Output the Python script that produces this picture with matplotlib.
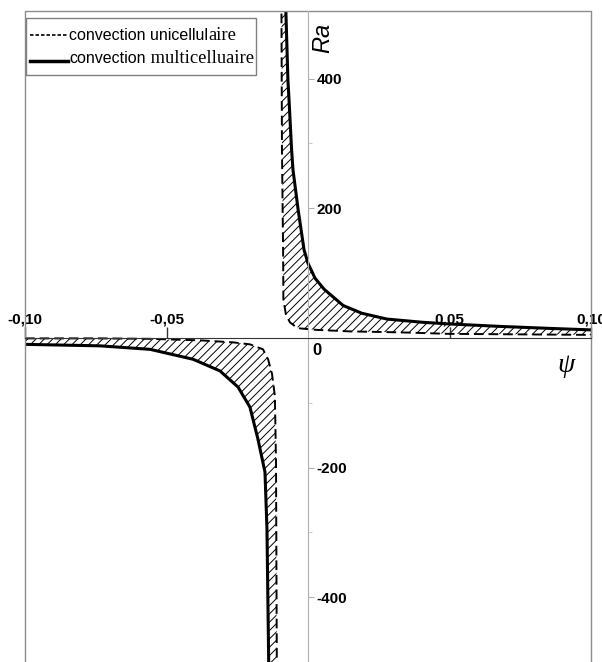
import numpy as np
import matplotlib.pyplot as plt
from matplotlib.patches import Rectangle
from matplotlib.lines import Line2D

plt.rcParams['hatch.linewidth'] = 0.7

# values (psi, Ra)
psi_multi_pos = [-0.0080, -0.0071, -0.0067, -0.0058, -0.0053, -0.0035, -0.0014, 0.0000,
                 0.0025, 0.0057, 0.0124, 0.0190, 0.0279, 0.0406, 0.0498, 0.0678, 0.0855, 0.1000]
ra_multi_pos = [530, 398, 367, 290, 259, 198, 136, 115,
                92, 75, 50, 38, 29, 24, 21.5, 17.7, 14.6, 12.3]

psi_uni_pos = [-0.0094, -0.0092, -0.0088, -0.0087, -0.0078, -0.0064, -0.0046, -0.0028,
               0.0032, 0.0148, 0.0325, 0.0498, 0.0749, 0.1000]
ra_uni_pos = [530, 290, 136, 59, 36, 24, 18, 14.6, 12.3, 10, 8.5, 6.2, 5.4, 4.6]

psi_multi_neg = [-0.1000, -0.0735, -0.0558, -0.0406, -0.0311, -0.0247, -0.0205,
                 -0.0177, -0.0152, -0.0145, -0.0138]
ra_multi_neg = [-10, -12.3, -17.7, -33, -51, -76, -107, -156, -207, -295, -530]

psi_uni_neg = [-0.1000, -0.0735, -0.0558, -0.0382, -0.0265, -0.0205, -0.0159,
               -0.0141, -0.0127, -0.0117, -0.0113, -0.0110]
ra_uni_neg = [-0.8, -0.8, -1.5, -3.8, -6.9, -10, -17.7, -33, -56, -90, -192, -530]

xtick_vals = [-0.10, -0.05, 0.05, 0.10]
xtick_labels = ['-0,10', '-0,05', '0,05', '0,10']
ytick_vals = [-400, -200, 200, 400]
ytick_labels = ['-400', '-200', '200', '400']
yminor_vals = [-500, -300, -100, 100, 300]

# legend entries: sans part + serif part
legend_sans = ['convection unicellul', 'convection']
legend_serif = ['aire', ' multicelluaire']

W, H = 602, 662
def fx(px):
    return px / W
def fy(py):
    return 1 - py / H

narrow = ['Liberation Sans Narrow', 'Liberation Sans', 'DejaVu Sans']

fig = plt.figure(figsize=(W / 100, H / 100), dpi=100)
ax = fig.add_axes([fx(25), 0, fx(591) - fx(25), 651.5 / H])
ax.set_xlim(-0.1, 0.1)
ax.set_ylim(-496, 505)

# hatched zones between the two curves
for ps, rs, pu, ru in [(psi_multi_pos, ra_multi_pos, psi_uni_pos, ra_uni_pos),
                       (psi_multi_neg, ra_multi_neg, psi_uni_neg, ra_uni_neg)]:
    ax.fill(np.r_[ps, pu[::-1]], np.r_[rs, ru[::-1]], facecolor='none',
            edgecolor='black', hatch='////', linewidth=0)

# curves
for p, r in [(psi_uni_pos, ra_uni_pos), (psi_uni_neg, ra_uni_neg)]:
    ax.plot(p, r, color='black', lw=1.4, ls=(0, (5, 2.5)))
for p, r in [(psi_multi_pos, ra_multi_pos), (psi_multi_neg, ra_multi_neg)]:
    ax.plot(p, r, color='black', lw=2.2)

# axes through the origin
ax.spines['left'].set_visible(False)
ax.spines['bottom'].set_visible(False)
ax.spines['top'].set_position(('data', 0))
ax.spines['top'].set_color('#333333')
ax.spines['right'].set_position(('data', 0))
ax.spines['right'].set_color('#b0b0b0')
ax.xaxis.set_ticks_position('top')
ax.yaxis.set_ticks_position('right')

ax.set_xticks(xtick_vals, xtick_labels, fontweight='bold', family=narrow, fontsize=11)
ax.set_yticks(ytick_vals, ytick_labels, fontweight='bold', family=narrow, fontsize=11)
ax.set_yticks(yminor_vals, minor=True)
ax.tick_params(axis='x', direction='out', length=8, width=1, color='#333333', pad=0.5)
ax.tick_params(axis='y', which='major', direction='out', length=4.5, color='#b0b0b0', pad=1.5)
ax.tick_params(axis='y', which='minor', direction='out', length=3, color='#c0c0c0')

# gray frame
ax.plot([0, 0, 1, 1], [0, 1, 1, 0], transform=ax.transAxes, color='#8c8c8c',
        lw=1, clip_on=False)

ax.annotate('0', xy=(0, 0), xytext=(3, -4), textcoords='offset points',
            ha='left', va='top', fontweight='bold', family=narrow, fontsize=12)

# axis names
fig.text(fx(323), fy(38), 'Ra', rotation=90, style='italic', fontsize=17,
         family='Liberation Sans', ha='center', va='center')
fig.text(fx(566), fy(366), 'ψ', style='italic', fontsize=20,
         family='Liberation Serif', ha='center', va='center')

# legend (mixed fonts as in the original)
fig.add_artist(Rectangle((fx(26), fy(75)), fx(256) - fx(26), fy(18) - fy(75),
                         transform=fig.transFigure, facecolor='white',
                         edgecolor='#808080', lw=1, zorder=5))
fig.add_artist(Line2D([fx(30), fx(68)], [fy(35), fy(35)], transform=fig.transFigure,
                      color='black', lw=1.2, ls=(0, (2.1, 1.2)), zorder=6))
fig.add_artist(Line2D([fx(30), fx(68)], [fy(60.5), fy(60.5)], transform=fig.transFigure,
                      color='black', lw=2.5, zorder=6))

baselines = [39.5, 63]
sans_texts = []
for lab, yb in zip(legend_sans, baselines):
    sans_texts.append(fig.text(fx(69), fy(yb), lab, fontsize=11.5, family='Liberation Sans',
                               ha='left', va='baseline', zorder=6))
fig.canvas.draw()
for t, lab, yb in zip(sans_texts, legend_serif, baselines):
    x1 = fig.transFigure.inverted().transform(t.get_window_extent().p1)[0]
    fig.text(x1, fy(yb), lab, fontsize=13.3, family='Liberation Serif',
             ha='left', va='baseline', zorder=6)

fig.savefig('out.png', dpi=100)
